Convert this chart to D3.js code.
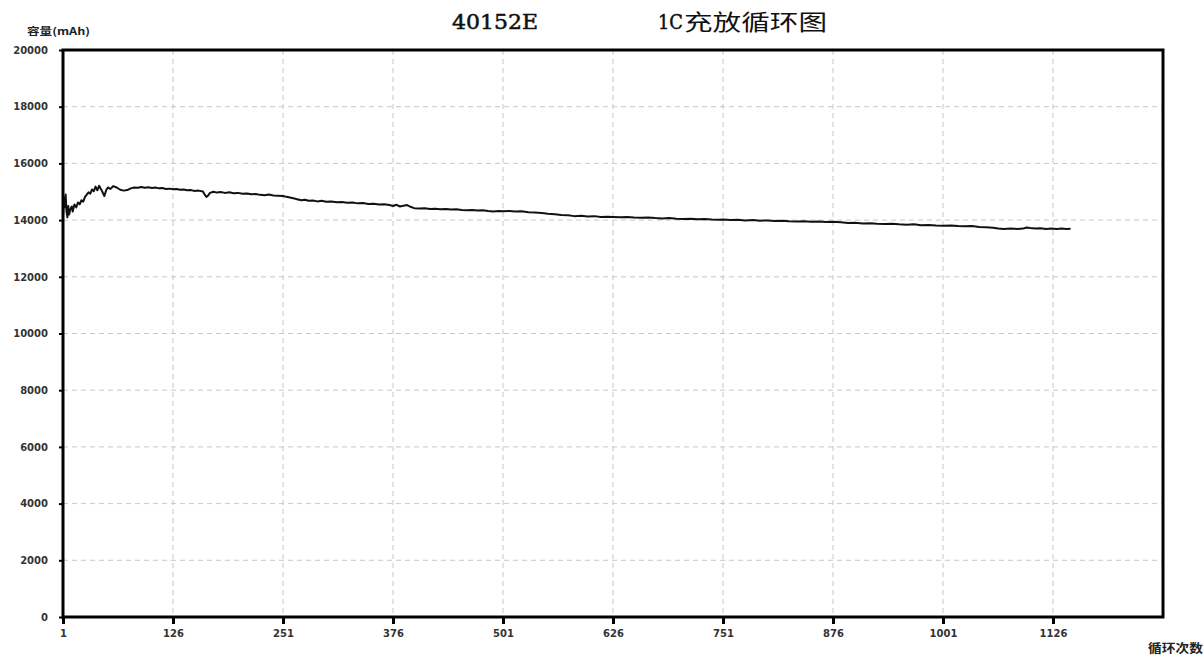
<!DOCTYPE html>
<html>
<head>
<meta charset="utf-8">
<script src="https://cdn.jsdelivr.net/npm/d3@7"></script>
<style>
html,body{margin:0;padding:0;background:#fff;}
svg{display:block;}
</style>
</head>
<body>
<svg id="chart" width="1203" height="655"></svg>
<script>
// ---- data ----
const titleLeft = "40152E";
const titleRate = "1C";
const titleRight = "充放循环图";
const yTitle = "容量(mAh)";
const xTitle = "循环次数";
const xTicks = [1, 126, 251, 376, 501, 626, 751, 876, 1001, 1126];
const yTicks = [0, 2000, 4000, 6000, 8000, 10000, 12000, 14000, 16000, 18000, 20000];
const cycles = [1,2,3,4,5,6,7,8,9,11,12,14,16,18,20,22,24,26,28,30,32,34,36,38,40,42,44,46,48,50,52,55,58,62,66,70,74,78,82,86,90,94,98,102,106,110,114,118,122,126,130,134,138,142,146,150,155,160,162,164,166,168,172,176,180,185,190,195,200,205,210,215,220,225,230,235,240,245,251,255,260,264,268,272,276,280,285,290,295,300,306,312,318,324,330,336,342,348,354,360,366,372,376,380,384,388,392,396,400,406,412,418,424,430,436,442,448,454,460,466,472,478,484,490,496,501,508,515,522,530,537,545,552,560,567,575,582,590,597,605,612,620,626,635,642,650,658,666,674,682,690,698,706,714,722,730,738,746,751,760,768,776,785,793,802,810,818,826,835,843,851,860,868,876,885,893,901,910,918,926,935,943,951,960,968,976,985,993,1001,1010,1018,1026,1034,1042,1050,1058,1064,1070,1078,1086,1092,1096,1100,1106,1112,1118,1124,1130,1136,1141,1146];
const capacity = [14100,14800,14450,14900,14300,14100,14500,14200,14350,14480,14300,14550,14450,14620,14560,14700,14650,14820,14900,14980,14930,15080,15020,15180,15050,15210,15100,14980,14850,15050,15150,15100,15200,15150,15070,15040,15060,15120,15150,15140,15170,15140,15160,15130,15150,15120,15130,15100,15110,15090,15100,15070,15080,15050,15060,15030,15040,15010,14900,14820,14870,14960,15000,14970,14990,14960,14980,14950,14960,14930,14940,14910,14920,14890,14880,14900,14870,14860,14850,14820,14790,14760,14730,14700,14720,14680,14690,14660,14680,14650,14660,14630,14640,14610,14620,14590,14600,14570,14580,14550,14560,14530,14500,14540,14480,14510,14530,14470,14420,14410,14420,14390,14400,14380,14390,14370,14380,14360,14350,14360,14340,14350,14320,14300,14320,14310,14320,14300,14310,14280,14270,14250,14220,14210,14180,14170,14140,14150,14130,14140,14110,14120,14110,14100,14110,14090,14080,14090,14070,14060,14070,14050,14040,14050,14030,14040,14020,14010,14020,14000,14010,13990,14000,13980,13990,13970,13980,13960,13950,13960,13940,13950,13930,13940,13920,13900,13910,13880,13890,13870,13860,13870,13850,13840,13850,13820,13830,13810,13800,13810,13790,13780,13790,13760,13750,13730,13700,13690,13700,13690,13700,13740,13720,13700,13710,13690,13700,13690,13700,13690,13695];

// ---- drawing ----
const svg = d3.select("#chart");
svg.append("rect").attr("width",1203).attr("height",655).attr("fill","#fff");

const x = d3.scaleLinear().domain([1, 1251]).range([63, 1163]);
const y = d3.scaleLinear().domain([0, 20000]).range([617, 50]);

const tickFont = "'DejaVu Sans', Verdana, sans-serif";

// grid
const grid = svg.append("g");
grid.selectAll("line.vg").data(xTicks.slice(1)).enter().append("line")
  .attr("x1", d=>x(d)).attr("x2", d=>x(d)).attr("y1", 50).attr("y2", 617)
  .attr("stroke", "#c8c8c8").attr("stroke-width", 1).attr("stroke-dasharray", "5,4");
grid.selectAll("line.hg").data(yTicks.slice(1, -1)).enter().append("line")
  .attr("x1", 63).attr("x2", 1163).attr("y1", d=>y(d)).attr("y2", d=>y(d))
  .attr("stroke", "#c8c8c8").attr("stroke-width", 1).attr("stroke-dasharray", "5,4");

// line
const pts = cycles.map((c,i)=>({c, v: capacity[i]}));
svg.append("path").datum(pts)
  .attr("fill","none").attr("stroke","#111").attr("stroke-width",2)
  .attr("stroke-linejoin","round")
  .attr("d", d3.line().x(d=>x(d.c)).y(d=>y(d.v)));

// axes
const xAxis = d3.axisBottom(x).tickValues(xTicks).tickSize(7).tickPadding(6).tickFormat(d3.format("d"));
const gx = svg.append("g").attr("transform","translate(0,617)").call(xAxis);
gx.select(".domain").remove();
gx.selectAll(".tick line").attr("stroke","#000").attr("stroke-width",3);
gx.selectAll(".tick text").attr("font-family",tickFont).attr("font-size",10).attr("font-weight","bold").attr("fill","#333");

const yAxis = d3.axisLeft(y).tickValues(yTicks).tickSize(4).tickPadding(11).tickFormat(d3.format("d"));
const gy = svg.append("g").attr("transform","translate(63,0)").call(yAxis);
gy.select(".domain").remove();
gy.selectAll(".tick line").attr("stroke","#000").attr("stroke-width",2);
gy.selectAll(".tick text").attr("font-family",tickFont).attr("font-size",10).attr("font-weight","bold").attr("fill","#333");

// frame
svg.append("rect").attr("x",63).attr("y",50).attr("width",1100).attr("height",567)
  .attr("fill","none").attr("stroke","#000").attr("stroke-width",3);

// titles
svg.append("text").attr("x",452).attr("y",29).text(titleLeft)
  .attr("font-family","'DejaVu Serif', 'Liberation Serif', serif").attr("font-size",20)
  .attr("stroke","#111").attr("stroke-width",0.5)
  .attr("textLength",86).attr("lengthAdjust","spacingAndGlyphs").attr("fill","#111");
svg.append("text").attr("x",658).attr("y",29).text(titleRate)
  .attr("font-family","'DejaVu Serif', 'Liberation Serif', serif").attr("font-size",20)
  .attr("stroke","#111").attr("stroke-width",0.5)
  .attr("textLength",25).attr("lengthAdjust","spacingAndGlyphs").attr("fill","#111");
svg.append("text").attr("x",684).attr("y",30).text(titleRight)
  .attr("font-family","'Noto Sans CJK SC', sans-serif").attr("font-size",22)
  .attr("textLength",143).attr("lengthAdjust","spacingAndGlyphs").attr("fill","#111");

svg.append("text").attr("x",27).attr("y",35).text(yTitle)
  .attr("font-family","'Noto Sans CJK SC', 'DejaVu Sans', sans-serif").attr("font-size",10).attr("font-weight","bold")
  .attr("textLength",63).attr("lengthAdjust","spacingAndGlyphs").attr("fill","#222");
svg.append("text").attr("x",1148).attr("y",653).text(xTitle)
  .attr("font-family","'Noto Sans CJK SC', sans-serif").attr("font-size",12).attr("font-weight","bold")
  .attr("textLength",55).attr("lengthAdjust","spacingAndGlyphs").attr("fill","#222");
</script>
</body>
</html>
